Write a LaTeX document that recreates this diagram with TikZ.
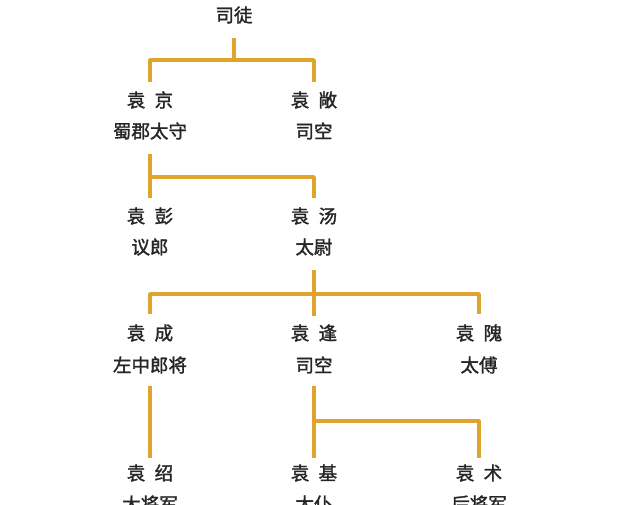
\documentclass[tikz,border=0pt]{standalone}
\usepackage{fontspec}
\newfontfamily\cjk{Noto Sans CJK SC}[FakeBold=1.6]
\definecolor{gold}{HTML}{DFA42C}
\definecolor{ink}{HTML}{262626}
\begin{document}
\begin{tikzpicture}[x=1pt,y=-1pt,
  lbl/.style={font=\cjk\fontsize{18.5}{20}\selectfont, text=ink, inner sep=0pt, anchor=center},
  ln/.style={draw=gold, line width=3.4pt, line join=round}]
\useasboundingbox (0,0) rectangle (640,504);
\fill[white] (0,0) rectangle (640,504);
% texts
\node[lbl] (situ) at (234,15) {司徒};
\node[lbl] (jing) at (150,100) {袁\hspace{0.5em}京};
\node[lbl] (jingt) at (150,131) {蜀郡太守};
\node[lbl] (chang) at (314,100) {袁\hspace{0.5em}敞};
\node[lbl] (changt) at (314,131) {司空};
\node[lbl] (peng) at (150,216) {袁\hspace{0.5em}彭};
\node[lbl] (pengt) at (150,247) {议郎};
\node[lbl] (tang) at (314,216) {袁\hspace{0.5em}汤};
\node[lbl] (tangt) at (314,247) {太尉};
\node[lbl] (cheng) at (150,333) {袁\hspace{0.5em}成};
\node[lbl] (chengt) at (150,365) {左中郎将};
\node[lbl] (feng) at (314,333) {袁\hspace{0.5em}逢};
\node[lbl] (fengt) at (314,365) {司空};
\node[lbl] (wei) at (479,333) {袁\hspace{0.5em}隗};
\node[lbl] (weit) at (479,365) {太傅};
\node[lbl] (shao) at (150,473) {袁\hspace{0.5em}绍};
\node[lbl] (shaot) at (150,504) {大将军};
\node[lbl] (ji) at (314,473) {袁\hspace{0.5em}基};
\node[lbl] (jit) at (314,504) {太仆};
\node[lbl] (shu) at (479,473) {袁\hspace{0.5em}术};
\node[lbl] (shut) at (479,504) {后将军};
% connectors
\coordinate (j1) at (234,60);
\draw[ln] (situ.south |- 0,38) -- (j1);
\draw[ln] (jing.north |- 0,82) -- (150,60) -- (314,60) -- (chang.north |- 0,82);
\coordinate (j2) at (150,177);
\draw[ln] (jingt.south |- 0,154) -- (peng.north |- 0,198);
\draw[ln] (j2) -- (314,177) -- (tang.north |- 0,198);
\coordinate (j3) at (314,294);
\draw[ln] (tangt.south |- 0,270) -- (feng.north |- 0,316);
\draw[ln] (cheng.north |- 0,314) -- (150,294) -- (479,294) -- (wei.north |- 0,314);
\draw[ln] (chengt.south |- 0,386) -- (shao.north |- 0,458);
\coordinate (j4) at (314,421);
\draw[ln] (fengt.south |- 0,386) -- (ji.north |- 0,458);
\draw[ln] (j4) -- (479,421) -- (shu.north |- 0,458);
\end{tikzpicture}
\end{document}
